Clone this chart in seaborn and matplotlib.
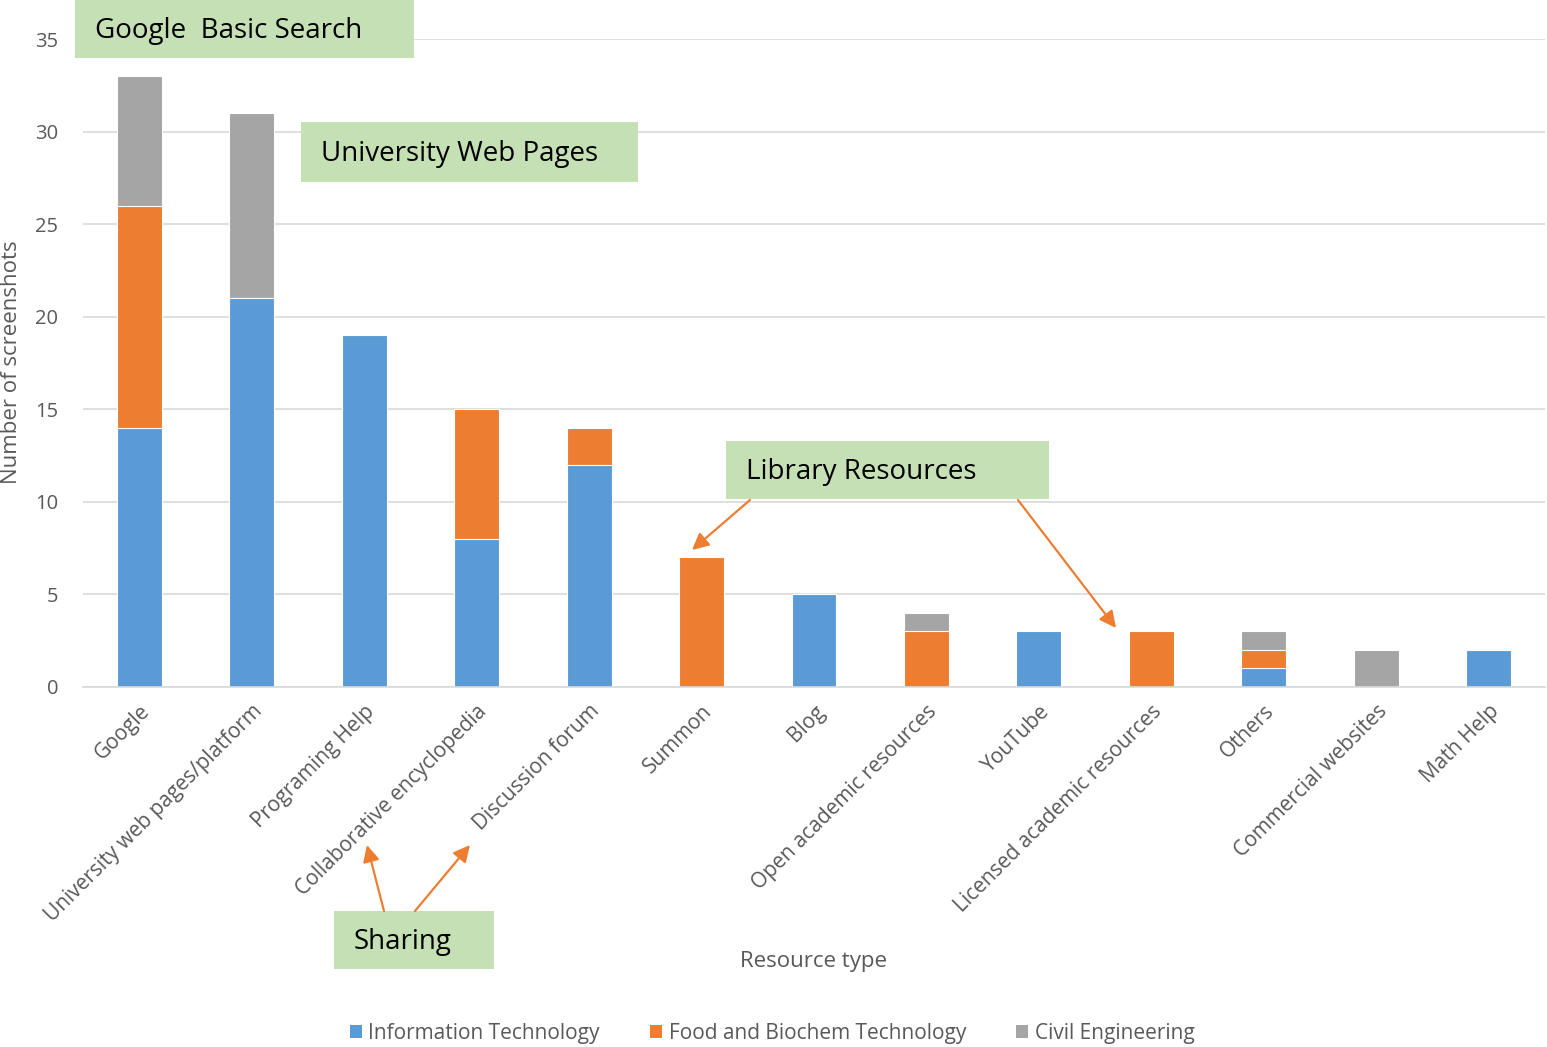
import matplotlib
matplotlib.use("Agg")
import matplotlib.pyplot as plt
from matplotlib.patches import Patch
import numpy as np
import pandas as pd
import seaborn as sns

categories = [
    "Google", "University web pages/platform", "Programing Help",
    "Collaborative encyclopedia", "Discussion forum", "Summon", "Blog",
    "Open academic resources", "YouTube", "Licensed academic resources",
    "Others", "Commercial websites", "Math Help",
]
info_tech = [14, 21, 19, 8, 12, 0, 5, 0, 3, 0, 1, 0, 2]
food_biochem = [12, 0, 0, 7, 2, 7, 0, 3, 0, 3, 1, 0, 0]
civil_eng = [7, 10, 0, 0, 0, 0, 0, 1, 0, 0, 1, 2, 0]
series_names = ["Information Technology", "Food and Biochem Technology", "Civil Engineering"]
colors = ["#5B9BD5", "#ED7D31", "#A5A5A5"]

W, H = 1547, 1047
GRAY = "#595959"
GREEN = "#C5E0B4"

sns.set_theme(style="white")
plt.rcParams["font.family"] = ["Open Sans", "DejaVu Sans"]

fig = plt.figure(figsize=(W / 100, H / 100), dpi=100)
ax = fig.add_axes([83 / W, 1 - 687 / H, (1545 - 83) / W, (687 - 39) / H])

df = pd.DataFrame({"cat": categories, "it": info_tech, "food": food_biochem, "civil": civil_eng})
df["lvl1"] = df["it"]
df["lvl2"] = df["it"] + df["food"]
df["lvl3"] = df["lvl2"] + df["civil"]

# stacked bars drawn as layered cumulative totals
for col, c in zip(["lvl3", "lvl2", "lvl1"], colors[::-1]):
    sns.barplot(data=df, x="cat", y=col, color=c, width=0.4, ax=ax,
                edgecolor="white", linewidth=0.8, saturation=1, errorbar=None)

ax.set_ylim(0, 35)
ax.set_yticks(np.arange(0, 36, 5))
ax.yaxis.grid(True, color="#D9D9D9", linewidth=1.2)
ax.set_axisbelow(True)
for s in ["top", "right", "left"]:
    ax.spines[s].set_visible(False)
ax.spines["bottom"].set_color("#D9D9D9")
ax.spines["bottom"].set_linewidth(1.2)
ax.tick_params(axis="x", length=0, colors=GRAY, labelsize=15, pad=10)
ax.tick_params(axis="y", length=0, colors=GRAY, labelsize=14.5, pad=18)
ax.set_xticks(range(len(categories)))
ax.set_xticklabels(categories, rotation=45, ha="right", rotation_mode="anchor")
ax.set_xlabel("")
ax.set_ylabel("")

fig.text(12 / W, 1 - 362 / H, "Number of screenshots", rotation=90, ha="center", va="center",
         fontsize=16, color=GRAY)
fig.text(813 / W, 1 - 962 / H, "Resource type", ha="center", va="center", fontsize=16, color=GRAY)

handles = [Patch(facecolor=c, edgecolor="none") for c in colors]
fig.legend(handles, series_names, loc="center", bbox_to_anchor=(772 / W, 1 - 1033 / H),
           ncol=3, frameon=False, fontsize=15, labelcolor=GRAY, handlelength=0.6,
           handleheight=0.6, handletextpad=0.3, columnspacing=2.4)


def fx(px):
    return px / W


def fy(py):
    return 1 - py / H


def green_box(x0, y0, x1, y1, text, pad_left=20):
    fig.patches.append(plt.Rectangle((fx(x0), fy(y1)), fx(x1) - fx(x0), fy(y0) - fy(y1),
                                     transform=fig.transFigure, facecolor=GREEN,
                                     edgecolor="none", zorder=5))
    fig.text(fx(x0 + pad_left), fy((y0 + y1) / 2 + 2), text, ha="left", va="center",
             fontsize=20, color="black", zorder=6)


green_box(75, 0, 414, 58, "Google  Basic Search")
green_box(301, 122, 638, 182, "University Web Pages")
green_box(726, 441, 1049, 499, "Library Resources")
green_box(334, 911, 494, 969, "Sharing")

arrows = [((750, 500), (692, 550)), ((1018, 500), (1116, 628)),
          ((384, 911), (367, 845)), ((415, 911), (470, 845))]
for (sx, sy), (ex, ey) in arrows:
    fig.add_artist(matplotlib.patches.FancyArrowPatch(
        (fx(sx), fy(sy)), (fx(ex), fy(ey)), transform=fig.transFigure,
        arrowstyle="-|>,head_length=10,head_width=5", color="#ED7D31",
        linewidth=1.6, shrinkA=0, shrinkB=0, zorder=6))

fig.savefig("out.png", dpi=100)
